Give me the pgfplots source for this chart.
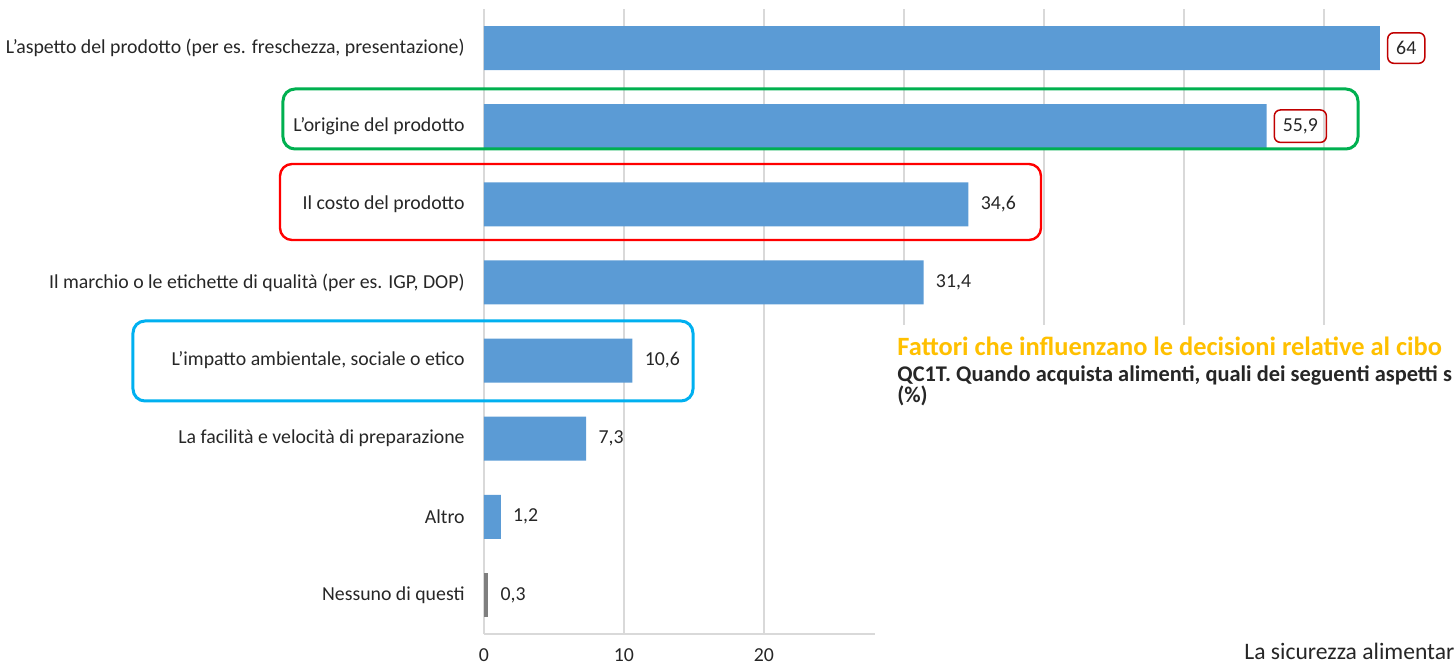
\documentclass[border=0pt]{standalone}
\usepackage{fontspec}
\setmainfont{Carlito}
\usepackage{pgfplots}
\pgfplotsset{compat=1.18}
\definecolor{barblue}{HTML}{5B9BD5}
\definecolor{bargray}{HTML}{7F7F7F}
\definecolor{gridgray}{HTML}{D9D9D9}
\definecolor{txt}{HTML}{262626}
\definecolor{boxred}{HTML}{C00000}
\definecolor{hlgreen}{HTML}{00B050}
\definecolor{hlred}{HTML}{FF0000}
\definecolor{hlblue}{HTML}{00B0F0}
\definecolor{titorange}{HTML}{FFC000}
\pgfplotsset{/pgf/number format/assume math mode=true}
\begin{document}
\begin{tikzpicture}[x=1pt,y=1pt]
\begin{axis}[
  at={(0,0)}, anchor=south west,
  scale only axis, width=486pt, height=312.5pt,
  xbar, bar width=22pt, bar shift=0pt,
  xmin=0, xmax=69.43, ymin=-0.5, ymax=7.5,
  xtick={0,10,...,60},
  xticklabels={0,10,20,{},{},{},{}},
  xmajorgrids, grid style={draw=gridgray, line width=0.6pt},
  ytick={0,...,7},
  yticklabels={Nessuno di questi, Altro, La facilità e velocità di preparazione, {L’impatto ambientale, sociale o etico}, {Il marchio o le etichette di qualità (per es. IGP, DOP)}, Il costo del prodotto, L’origine del prodotto, {L’aspetto del prodotto (per es. freschezza, presentazione)}},
  axis x line*=bottom, axis y line*=left,
  axis line style={draw=gridgray, line width=0.6pt, -},
  major tick length=0pt,
  ticklabel style={font=\fontsize{9.9}{11}\selectfont, text=txt, inner sep=0pt},
  yticklabel style={xshift=-9.5pt},
  xticklabel style={yshift=-7pt},
  point meta=x,
  nodes near coords={\pgfmathprintnumber[use comma,fixed,precision=1]{\pgfplotspointmeta}},
  nodes near coords align=horizontal,
  every node near coord/.append style={font=\fontsize{9.9}{11}\selectfont, text=txt, anchor=west},
  clip=false,
]
\addplot[fill=barblue, draw=none, every node near coord/.append style={draw=boxred, line width=0.75pt, rounded corners=3pt, inner xsep=4.25pt, inner ysep=4.25pt, xshift=3.5pt}]
  coordinates {(64,7) (55.9,6)};
\addplot[fill=barblue, draw=none, every node near coord/.append style={inner xsep=2pt, xshift=4pt}]
  coordinates {(34.6,5) (31.4,4) (10.6,3) (7.3,2) (1.2,1)};
\addplot[fill=bargray, draw=none, every node near coord/.append style={inner xsep=2pt, xshift=4pt}]
  coordinates {(0.3,0)};
\end{axis}
% highlight frames
\draw[hlgreen, line width=1.5pt, rounded corners=6pt] (-100.5,242.5) rectangle (437,272.5);
\draw[hlred, line width=1.2pt, rounded corners=6pt] (-102,197) rectangle (278.5,235);
\draw[hlblue, line width=1.5pt, rounded corners=6pt] (-175.5,116.5) rectangle (104.5,156.5);
% overlay from the slide
\fill[white] (195.5,-20) rectangle (490,154.5);
\node[anchor=base west, inner sep=0pt, text=titorange, font=\bfseries\fontsize{13.2}{15}\selectfont] at (206.5,139) {Fattori che influenzano le decisioni relative al cibo};
\node[anchor=base west, inner sep=0pt, text=txt, font=\bfseries\fontsize{11.2}{13}\selectfont] at (206.5,126) {QC1T. Quando acquista alimenti, quali dei seguenti aspetti s};
\node[anchor=base west, inner sep=0pt, text=txt, font=\bfseries\fontsize{11.2}{13}\selectfont] at (206.5,115.5) {(\%)};
\node[anchor=base west, inner sep=0pt, text=txt, font=\fontsize{11.8}{13}\selectfont] at (380,-13) {La sicurezza alimentar};
\pgfresetboundingbox
\path[use as bounding box] (-242,-16.5) rectangle (486,317);
\end{tikzpicture}
\end{document}
